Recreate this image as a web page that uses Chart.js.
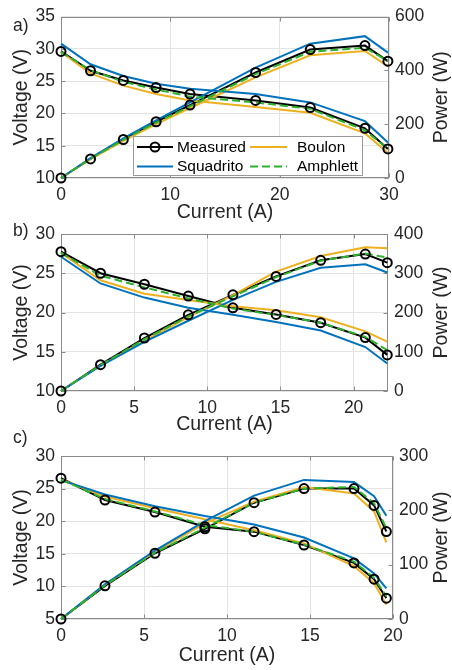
<!DOCTYPE html>
<html>
<head>
<meta charset="utf-8">
<script src="https://cdn.jsdelivr.net/npm/chart.js@4/dist/chart.umd.min.js"></script>
<style>
  body { margin: 0; background: #fff; }
  #wrap { position: relative; width: 452px; height: 670px; }
  #wrap canvas { position: absolute; left: 0; top: 0; }
</style>
</head>
<body>
<div id="wrap">
  <canvas id="chartA" width="452" height="670"></canvas>
  <canvas id="chartB" width="452" height="670"></canvas>
  <canvas id="chartC" width="452" height="670"></canvas>
</div>
<script>
// ----- data -----
// panel a
const currentA   = [0, 2.7, 5.7, 8.7, 11.8, 17.8, 22.8, 27.8, 29.9];
const voltMeasA  = [29.6, 26.6, 25.1, 24.0, 23.0, 22.0, 20.9, 17.7, 14.5];
const voltBoulA  = [29.5, 26.2, 24.3, 23.0, 22.0, 21.0, 20.1, 16.9, 13.9];
const voltSquaA  = [30.8, 27.6, 25.8, 24.6, 23.8, 23.0, 21.7, 18.8, 15.5];
const voltAmphA  = [29.5, 26.7, 24.9, 23.7, 22.6, 21.7, 20.7, 17.4, 14.5];
const powMeasA   = [0, 71, 143, 209, 271, 392, 477, 492, 434];
const powBoulA   = [0, 70, 138, 200, 260, 374, 456, 472, 415];
const powSquaA   = [0, 74, 147, 214, 281, 410, 499, 527, 466];
const powAmphA   = [0, 72, 142, 206, 267, 386, 469, 484, 435];
const xTicksA    = [0, 10, 20, 30];
const vTicksA    = [10, 15, 20, 25, 30, 35];
const pTicksA    = [0, 200, 400, 600];

// panel b
const currentB   = [0, 2.7, 5.7, 8.7, 11.75, 14.7, 17.75, 20.8, 22.3];
const voltMeasB  = [27.75, 25.0, 23.6, 22.1, 20.6, 19.75, 18.7, 16.8, 14.6];
const voltBoulB  = [27.6, 24.1, 22.4, 21.6, 20.8, 20.3, 19.4, 17.6, 16.3];
const voltSquaB  = [27.1, 23.7, 21.9, 20.6, 19.7, 18.8, 17.7, 15.6, 13.5];
const voltAmphB  = [27.6, 24.7, 23.2, 21.8, 20.5, 19.7, 18.7, 16.9, 15.2];
const powMeasB   = [0, 67, 135, 194, 245, 292, 333, 349, 327];
const powBoulB   = [0, 65, 128, 188, 244, 304, 344, 366, 364];
const powSquaB   = [0, 64, 125, 179, 232, 278, 314, 323, 302];
const powAmphB   = [0, 66, 132, 190, 241, 290, 332, 350, 340];
const xTicksB    = [0, 5, 10, 15, 20];
const vTicksB    = [10, 15, 20, 25, 30];
const pTicksB    = [0, 100, 200, 300, 400];

// panel c
const currentC   = [0, 2.65, 5.66, 8.67, 11.63, 14.64, 17.65, 18.86, 19.6];
const voltMeasC  = [26.6, 23.25, 21.4, 19.15, 18.4, 16.35, 13.6, 11.1, 8.2];
const voltBoulC  = [26.4, 23.8, 22.0, 20.3, 18.6, 16.6, 13.1, 10.5, 7.2];
const voltSquaC  = [26.3, 24.1, 22.3, 20.8, 19.5, 17.5, 14.3, 12.0, 9.7];
const voltAmphC  = [26.4, 23.4, 21.5, 19.4, 18.4, 16.4, 13.8, 11.3, 8.5];
const powMeasC   = [0, 61, 121, 166, 214, 240, 240, 209, 161];
const powBoulC   = [0, 63, 124, 176, 216, 243, 231, 198, 141];
const powSquaC   = [0, 64, 126, 180, 227, 256, 252, 226, 190];
const powAmphC   = [0, 62, 122, 168, 214, 240, 243, 213, 167];
const xTicksC    = [0, 5, 10, 15, 20];
const vTicksC    = [5, 10, 15, 20, 25, 30];
const pTicksC    = [0, 100, 200, 300];

const seriesNames = ["Measured", "Boulon", "Squadrito", "Amphlett"];

// ----- styling -----
const FONT = "'Liberation Sans', Arial, Helvetica, sans-serif";
const TXT = "#262626";
const AXIS = "#8a8a8a";
const GRID = "#e4e4e4";
const C_MEAS = "#000000";
const C_BOUL = "#EDB120";
const C_SQUA = "#0072BD";
const C_AMPH = "#2DB22D";
const AMPH_DASH = [8, 4];

const pts = (xs, ys) => xs.map((x, i) => ({ x, y: ys[i] }));

function lineSet(xs, ys, axis, color, dash) {
  return {
    data: pts(xs, ys), yAxisID: axis, borderColor: color, borderWidth: 2,
    borderDash: dash || [], pointRadius: 0, tension: 0, fill: false, clip: false
  };
}
function markerSet(xs, ys, axis) {
  return {
    data: pts(xs, ys), yAxisID: axis, showLine: false, pointRadius: 4.5,
    pointBorderWidth: 2, pointBorderColor: C_MEAS,
    pointBackgroundColor: "rgba(0,0,0,0)", clip: false
  };
}

// box, inward ticks, right title, panel letter and (optionally) the legend
const framePlugin = {
  id: "frame",
  beforeDatasetsDraw(chart, args, o) {
    const { ctx, chartArea: a, scales } = chart;
    const L = Math.round(a.left) + 0.5, R = Math.round(a.right) - 0.5;
    const T = Math.round(a.top) + 0.5, B = Math.round(a.bottom) - 0.5;
    ctx.save();
    ctx.strokeStyle = AXIS;
    ctx.lineWidth = 1;
    ctx.strokeRect(L, T, R - L, B - T);
    ctx.beginPath();
    scales.x.ticks.forEach(t => {
      const px = Math.round(scales.x.getPixelForValue(t.value)) + 0.5;
      ctx.moveTo(px, B); ctx.lineTo(px, B - 4);
      ctx.moveTo(px, T); ctx.lineTo(px, T + 4);
    });
    scales.yV.ticks.forEach(t => {
      const py = Math.round(scales.yV.getPixelForValue(t.value)) + 0.5;
      ctx.moveTo(L, py); ctx.lineTo(L + 4, py);
    });
    scales.yP.ticks.forEach(t => {
      const py = Math.round(scales.yP.getPixelForValue(t.value)) + 0.5;
      ctx.moveTo(R, py); ctx.lineTo(R - 4, py);
    });
    ctx.stroke();
    ctx.restore();
  },
  afterDraw(chart, args, o) {
    const { ctx, chartArea: a } = chart;
    ctx.save();
    ctx.fillStyle = TXT;
    ctx.textBaseline = "middle";
    // right axis title, reading bottom to top like the left one
    ctx.font = `19.5px ${FONT}`;
    ctx.textAlign = "center";
    ctx.save();
    ctx.translate(441.5, (a.top + a.bottom) / 2);
    ctx.rotate(-Math.PI / 2);
    ctx.fillText("Power (W)", 0, 0);
    ctx.restore();
    ctx.font = `17.5px ${FONT}`;
    ctx.textAlign = "left";
    ctx.fillText(o.label, 13, o.labelY);
    if (o.legend) drawLegend(ctx);
    ctx.restore();
  }
};

function drawLegend(ctx) {
  const bx = 133, by = 136, bw = 230, bh = 40;
  ctx.fillStyle = "#fff";
  ctx.fillRect(bx, by, bw, bh);
  ctx.strokeStyle = "#9a9a9a";
  ctx.lineWidth = 1;
  ctx.strokeRect(bx + 0.5, by + 0.5, bw - 1, bh - 1);
  const cols = [[137, 173, 177], [250, 287, 297]];
  const rows = [147, 166.5];
  const items = [
    { name: seriesNames[0], color: C_MEAS, col: 0, row: 0, marker: true },
    { name: seriesNames[1], color: C_BOUL, col: 1, row: 0 },
    { name: seriesNames[2], color: C_SQUA, col: 0, row: 1 },
    { name: seriesNames[3], color: C_AMPH, col: 1, row: 1, dash: AMPH_DASH }
  ];
  items.forEach(it => {
    const [x0, x1, tx] = cols[it.col];
    const y = rows[it.row];
    ctx.strokeStyle = it.color;
    ctx.lineWidth = 2;
    ctx.setLineDash(it.dash || []);
    ctx.beginPath(); ctx.moveTo(x0, y); ctx.lineTo(x1, y); ctx.stroke();
    ctx.setLineDash([]);
    if (it.marker) {
      ctx.beginPath(); ctx.arc((x0 + x1) / 2, y, 4.5, 0, Math.PI * 2); ctx.stroke();
    }
    ctx.fillStyle = "#000";
    ctx.font = `15.5px ${FONT}`;
    ctx.textBaseline = "middle";
    ctx.textAlign = "left";
    ctx.fillText(it.name, tx, y + 0.5);
  });
}

function makePanel(id, p) {
  const A = p.area;
  const tickFont = { family: FONT, size: 17.5 };
  const titleFont = { family: FONT, size: 19.5, lineHeight: 1 };
  return new Chart(document.getElementById(id), {
    type: "line",
    data: {
      datasets: [
        markerSet(p.x, p.vMeas, "yV"), markerSet(p.x, p.pMeas, "yP"),
        lineSet(p.x, p.vAmph, "yV", C_AMPH, AMPH_DASH), lineSet(p.x, p.pAmph, "yP", C_AMPH, AMPH_DASH),
        lineSet(p.x, p.vSqua, "yV", C_SQUA), lineSet(p.x, p.pSqua, "yP", C_SQUA),
        lineSet(p.x, p.vBoul, "yV", C_BOUL), lineSet(p.x, p.pBoul, "yP", C_BOUL),
        lineSet(p.x, p.vMeas, "yV", C_MEAS), lineSet(p.x, p.pMeas, "yP", C_MEAS)
      ]
    },
    options: {
      responsive: false, animation: false, devicePixelRatio: 1,
      events: [],
      layout: { padding: { left: 0, right: 0, top: A.top, bottom: 670 - A.bottom - A.xh } },
      plugins: {
        legend: { display: false }, tooltip: { enabled: false },
        frame: { label: p.label, labelY: p.labelY, legend: !!p.legend }
      },
      scales: {
        x: {
          type: "linear", position: "bottom", min: 0, max: p.xMax,
          afterBuildTicks: s => { s.ticks = p.xTicks.map(v => ({ value: v })); },
          afterFit: s => { s.height = A.xh; },
          grid: { color: GRID, drawTicks: false }, border: { display: false },
          ticks: { padding: 7, color: TXT, font: tickFont },
          title: { display: true, text: "Current (A)", color: TXT, font: titleFont, padding: 0 }
        },
        yV: {
          type: "linear", position: "left", min: p.vMin, max: p.vMax,
          afterBuildTicks: s => { s.ticks = p.vTicks.map(v => ({ value: v })); },
          afterFit: s => { s.width = A.left; },
          grid: { color: GRID, drawTicks: false }, border: { display: false },
          ticks: { padding: 6, color: TXT, font: tickFont },
          title: { display: true, text: "Voltage (V)", color: TXT, font: titleFont, padding: { top: 12, bottom: 0 } }
        },
        yP: {
          type: "linear", position: "right", min: 0, max: p.pMax,
          afterBuildTicks: s => { s.ticks = p.pTicks.map(v => ({ value: v })); },
          afterFit: s => { s.width = 452 - A.right; },
          grid: { display: false, drawTicks: false }, border: { display: false },
          ticks: { padding: 6, color: TXT, font: tickFont },
          title: { display: false }
        }
      }
    },
    plugins: [framePlugin]
  });
}

makePanel("chartA", {
  label: "a)", labelY: 26.5, legend: true,
  area: { left: 61, right: 389, top: 13, bottom: 178, xh: 44 },
  x: currentA, xMax: 30, xTicks: xTicksA,
  vMin: 10, vMax: 35, vTicks: vTicksA, pMax: 600, pTicks: pTicksA,
  vMeas: voltMeasA, vBoul: voltBoulA, vSqua: voltSquaA, vAmph: voltAmphA,
  pMeas: powMeasA, pBoul: powBoulA, pSqua: powSquaA, pAmph: powAmphA
});

makePanel("chartB", {
  label: "b)", labelY: 231,
  area: { left: 61, right: 388, top: 234, bottom: 391, xh: 43 },
  x: currentB, xMax: 22.35, xTicks: xTicksB,
  vMin: 10, vMax: 30, vTicks: vTicksB, pMax: 400, pTicks: pTicksB,
  vMeas: voltMeasB, vBoul: voltBoulB, vSqua: voltSquaB, vAmph: voltAmphB,
  pMeas: powMeasB, pBoul: powBoulB, pSqua: powSquaB, pAmph: powAmphB
});

makePanel("chartC", {
  label: "c)", labelY: 438,
  area: { left: 61, right: 393, top: 456, bottom: 619, xh: 46 },
  x: currentC, xMax: 20, xTicks: xTicksC,
  vMin: 5, vMax: 30, vTicks: vTicksC, pMax: 300, pTicks: pTicksC,
  vMeas: voltMeasC, vBoul: voltBoulC, vSqua: voltSquaC, vAmph: voltAmphC,
  pMeas: powMeasC, pBoul: powBoulC, pSqua: powSquaC, pAmph: powAmphC
});
</script>
</body>
</html>
